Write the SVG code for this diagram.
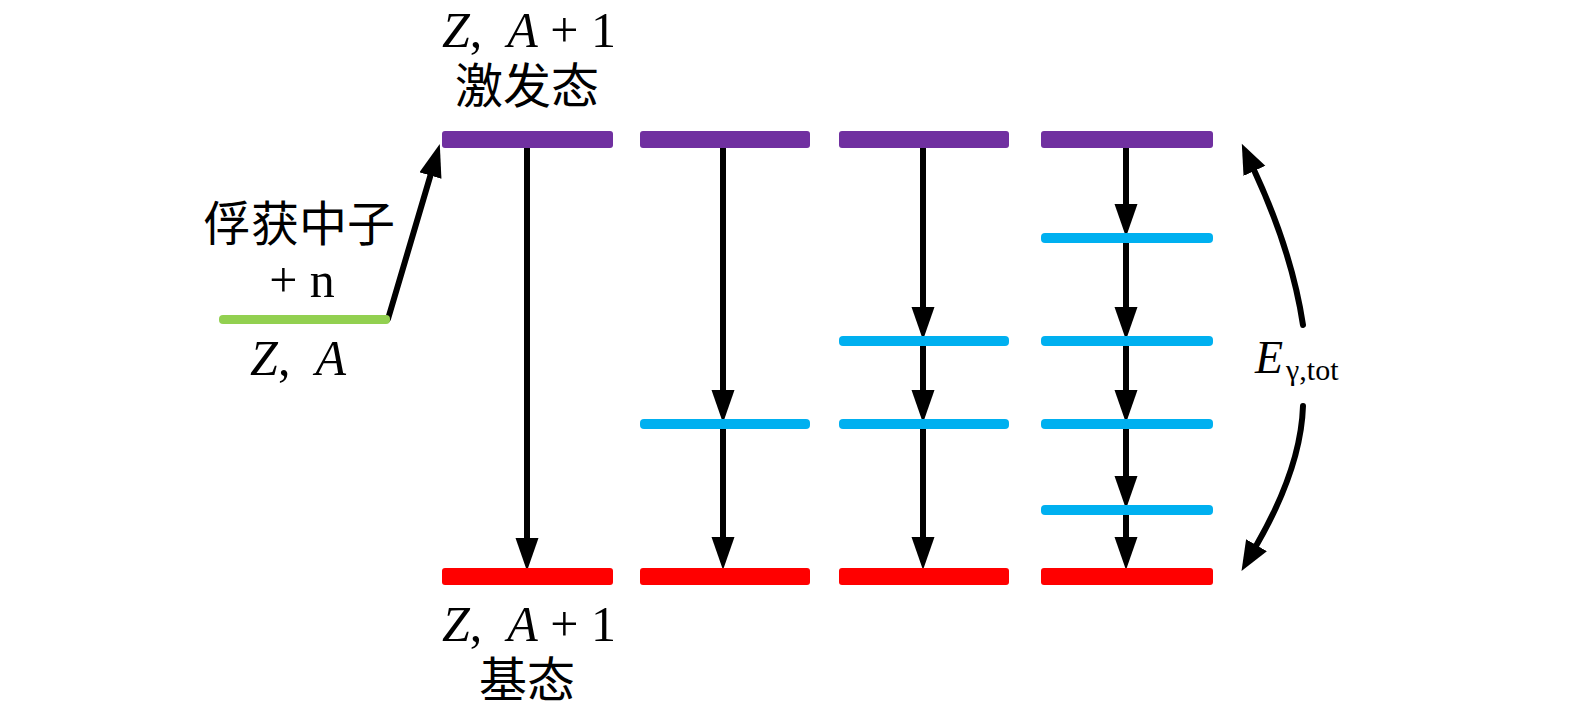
<svg xmlns="http://www.w3.org/2000/svg" width="1575" height="719" viewBox="0 0 1575 719">
<defs>
<style>
.lbl{font-family:'Liberation Serif','DejaVu Serif','Times New Roman',serif;fill:#000;font-size:50px;white-space:pre}
.cjk{font-family:'Noto Sans CJK SC',sans-serif;fill:#000;font-weight:400;font-size:48px}
.i{font-style:italic}
.ex{fill:#7030a0}
.gs{fill:#ff0000}
.mid{fill:#00b0f0}
.conn{stroke:#000;stroke-width:6;fill:none;stroke-linecap:round}
</style>
<marker id="ah" markerUnits="userSpaceOnUse" markerWidth="40" markerHeight="40" refX="1" refY="11.5" orient="auto">
<path d="M0,0 L33,11.5 L0,23 Z" fill="#000"/>
</marker>
<marker id="ah2" markerUnits="userSpaceOnUse" markerWidth="40" markerHeight="40" refX="1" refY="12" orient="auto">
<path d="M0,0 L30,12 L0,24 Z" fill="#000"/>
</marker>
</defs>
<rect width="1575" height="719" fill="#fff"/>
<g id="connectors">
<path class="conn" d="M388,319 L430.7,174.6" marker-end="url(#ah)"/>
<path class="conn" d="M527,146 L527,539" marker-end="url(#ah)"/>
<path class="conn" d="M723,146 L723,391" marker-end="url(#ah)"/>
<path class="conn" d="M723,424 L723,538" marker-end="url(#ah)"/>
<path class="conn" d="M923,146 L923,308" marker-end="url(#ah)"/>
<path class="conn" d="M923,341 L923,391" marker-end="url(#ah)"/>
<path class="conn" d="M923,424 L923,538" marker-end="url(#ah)"/>
<path class="conn" d="M1126,146 L1126,205" marker-end="url(#ah)"/>
<path class="conn" d="M1126,238 L1126,308" marker-end="url(#ah)"/>
<path class="conn" d="M1126,341 L1126,391" marker-end="url(#ah)"/>
<path class="conn" d="M1126,424 L1126,477" marker-end="url(#ah)"/>
<path class="conn" d="M1126,510 L1126,538" marker-end="url(#ah)"/>
<path class="conn" d="M1303,325 Q1292,252 1254,170" stroke-linecap="butt" marker-end="url(#ah2)"/>
<path class="conn" d="M1303,406 Q1301,468 1256,546" stroke-linecap="butt" marker-end="url(#ah2)"/>
</g>
<g id="ground-A">
<rect x="219" y="315" width="171" height="9" rx="4" fill="#92d050"/>
<text class="lbl" x="298" y="375" text-anchor="middle" xml:space="preserve"><tspan class="i">Z</tspan>,  <tspan class="i">A</tspan></text>
</g>
<g id="capture-label">
<text class="cjk" x="299" y="241" text-anchor="middle">俘获中子</text>
<text class="lbl" x="302" y="297" text-anchor="middle" xml:space="preserve">+ n</text>
</g>
<g id="excited-1">
<rect class="ex" x="442" y="131" width="171" height="17" rx="3"/>
<text class="lbl" x="529" y="47" text-anchor="middle" xml:space="preserve"><tspan class="i">Z</tspan>,  <tspan class="i">A</tspan> + 1</text>
<text class="cjk" x="527" y="103" text-anchor="middle">激发态</text>
</g>
<g id="excited-2"><rect class="ex" x="640" y="131" width="170" height="17" rx="3"/></g>
<g id="excited-3"><rect class="ex" x="839" y="131" width="170" height="17" rx="3"/></g>
<g id="excited-4"><rect class="ex" x="1041" y="131" width="172" height="17" rx="3"/></g>
<g id="mid-4a"><rect class="mid" x="1041" y="233" width="172" height="10" rx="4"/></g>
<g id="mid-3a"><rect class="mid" x="839" y="336" width="170" height="10" rx="4"/></g>
<g id="mid-4b"><rect class="mid" x="1041" y="336" width="172" height="10" rx="4"/></g>
<g id="mid-2a"><rect class="mid" x="640" y="419" width="170" height="10" rx="4"/></g>
<g id="mid-3b"><rect class="mid" x="839" y="419" width="170" height="10" rx="4"/></g>
<g id="mid-4c"><rect class="mid" x="1041" y="419" width="172" height="10" rx="4"/></g>
<g id="mid-4d"><rect class="mid" x="1041" y="505" width="172" height="10" rx="4"/></g>
<g id="ground-1">
<rect class="gs" x="442" y="568" width="171" height="17" rx="3"/>
<text class="lbl" x="529" y="641" text-anchor="middle" xml:space="preserve"><tspan class="i">Z</tspan>,  <tspan class="i">A</tspan> + 1</text>
<text class="cjk" x="527" y="697" text-anchor="middle">基态</text>
</g>
<g id="ground-2"><rect class="gs" x="640" y="568" width="170" height="17" rx="3"/></g>
<g id="ground-3"><rect class="gs" x="839" y="568" width="170" height="17" rx="3"/></g>
<g id="ground-4"><rect class="gs" x="1041" y="568" width="172" height="17" rx="3"/></g>
<g id="energy-label">
<text class="lbl" x="1255" y="373" style="font-size:46px"><tspan class="i">E</tspan><tspan dx="3" dy="7" style="font-size:30px">γ,tot</tspan></text>
</g>
</svg>
